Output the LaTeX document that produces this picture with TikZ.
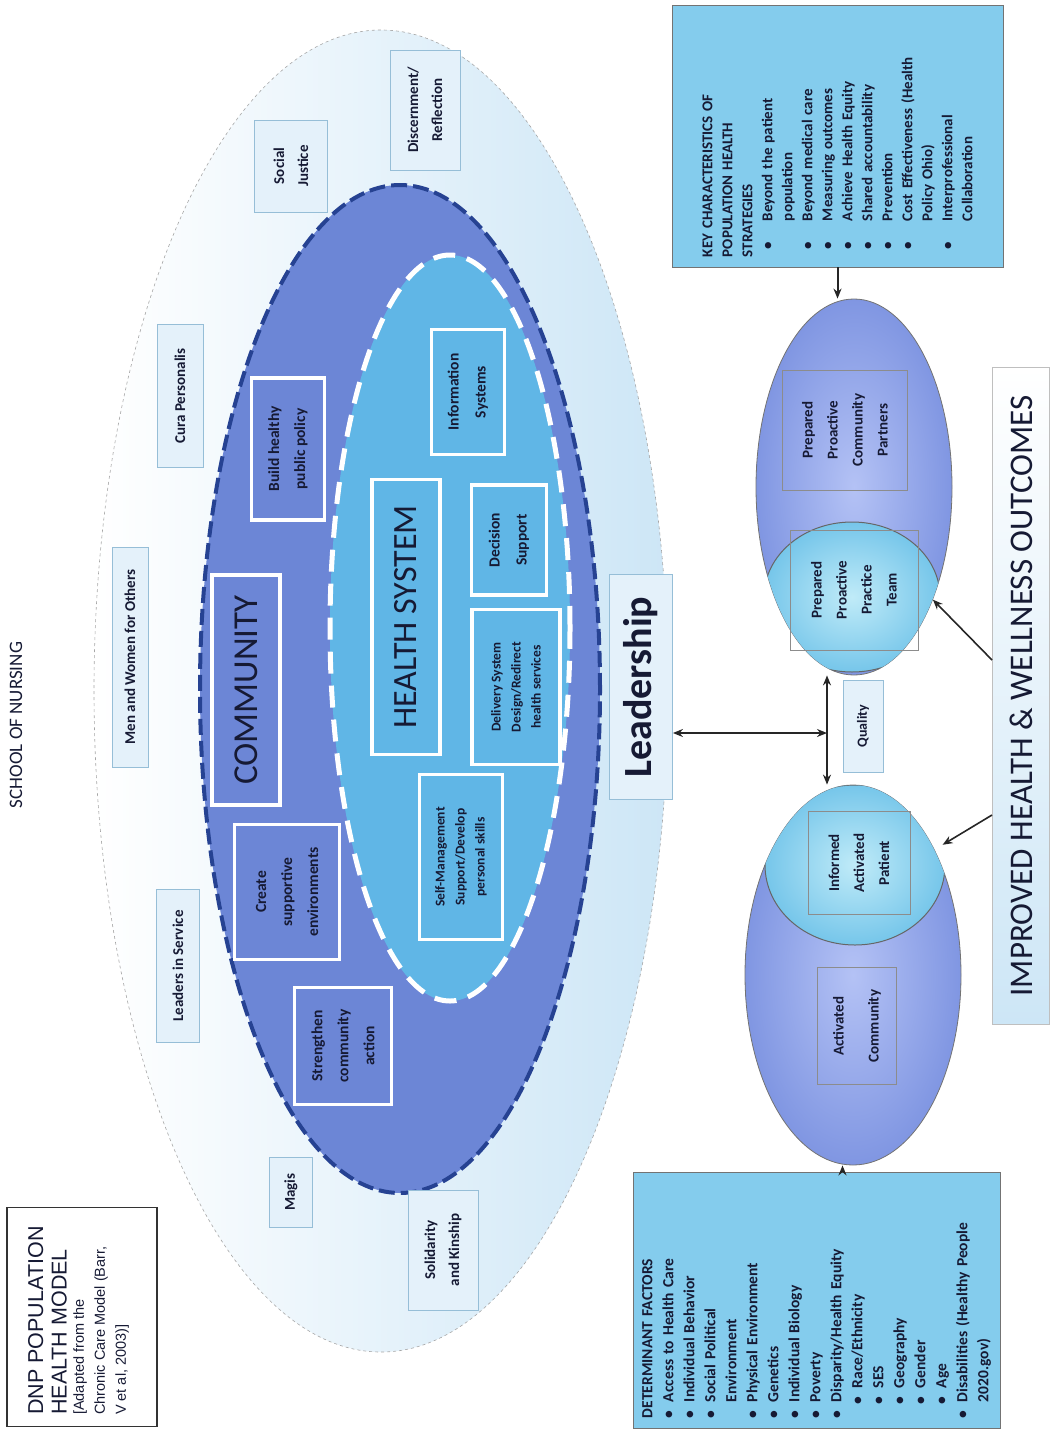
\documentclass[tikz,border=0pt]{standalone}
\usepackage{fontspec}
\setmainfont{Carlito}
\newfontfamily\arialfont{Liberation Sans}
\usetikzlibrary{shapes.geometric, arrows.meta}

\definecolor{comfill}{RGB}{108,134,214}
\definecolor{comline}{RGB}{38,66,146}
\definecolor{hsfill}{RGB}{96,182,230}
\definecolor{valfill}{RGB}{228,241,250}
\definecolor{valline}{RGB}{150,190,215}
\definecolor{outblue}{RGB}{205,230,246}
\definecolor{lavout}{RGB}{128,150,226}
\definecolor{lavin}{RGB}{180,194,245}
\definecolor{cyout}{RGB}{118,198,234}
\definecolor{cyin}{RGB}{192,235,248}
\definecolor{listfill}{RGB}{132,204,237}
\definecolor{textcol}{RGB}{22,26,52}

\newcommand{\fsz}[2]{\fontsize{#1}{#2}\selectfont}
\newcommand{\kitm}[1]{\hspace*{8pt}\makebox[28pt][l]{\textbullet}#1}
\newcommand{\kcnt}[1]{\hspace*{36pt}#1}
\newcommand{\ditm}[1]{\makebox[16pt][l]{\textbullet}#1}
\newcommand{\dcnt}[1]{\hspace*{16pt}#1}
\newcommand{\dsub}[1]{\hspace*{14pt}\makebox[16pt][l]{\textbullet}#1}

\tikzset{
  vert/.style={rotate=90, align=center, text=textcol, inner sep=2pt},
  valbox/.style={vert, draw=valline, fill=valfill, line width=0.8pt,
                 font=\bfseries\fsz{15}{24}},
  combox/.style={vert, draw=white, line width=3.5pt, fill=comfill,
                 font=\bfseries\fsz{15.5}{26}},
  hsbox/.style={vert, draw=white, line width=3.5pt, fill=hsfill,
                font=\bfseries\fsz{15.5}{27}},
  ringbox/.style={vert, draw=black!45, line width=0.8pt,
                  font=\bfseries\fsz{15}{25}},
  listbox/.style={rotate=90, align=left, draw=black!55, line width=0.8pt,
                  fill=listfill, text=textcol, inner xsep=10pt, inner ysep=4pt,
                  font=\bfseries\fsz{15}{20}},
  bigell/.style={ellipse, inner sep=0pt},
  arr/.style={-{Stealth[length=10pt,width=8pt]}, line width=2pt, draw=black!85},
  darr/.style={{Stealth[length=10pt,width=8pt]}-{Stealth[length=10pt,width=8pt]},
               line width=2.2pt, draw=black!85}
}

\begin{document}
\begin{tikzpicture}[x=1pt, y=-1pt]
\useasboundingbox (0,0) rectangle (1056,1432);

% rings of the model
\node[bigell, draw=black!35, dashed, line width=0.6pt, left color=white, right color=outblue,
      minimum width=574, minimum height=1322] (outer) at (381,691) {};
\node[bigell, draw=comline, line width=4pt, dash pattern=on 16pt off 6pt, fill=comfill,
      minimum width=400, minimum height=1008] (comm) at (400,689) {};
\node[bigell, draw=white, line width=5pt, dash pattern=on 22pt off 12pt, fill=hsfill,
      minimum width=240, minimum height=746] (hs) at (450,628) {};

% values
\node[valbox, minimum width=120, minimum height=70] (discern) at (425,110) {Discernment/\\Reflection};
\node[valbox, minimum width=92, minimum height=73] (justice) at (291,166) {Social\\Justice};
\node[valbox, minimum width=143, minimum height=46] (cura) at (180,396) {Cura Personalis};
\node[valbox, minimum width=220, minimum height=36] (menwomen) at (130,657) {Men and Women for Others};
\node[valbox, minimum width=153, minimum height=43] (leaders) at (178,966) {Leaders in Service};
\node[valbox, minimum width=70, minimum height=43] (magis) at (291,1192) {Magis};
\node[valbox, minimum width=120, minimum height=70] (kinship) at (443,1250) {Solidarity\\and Kinship};

% community
\node[combox, minimum width=142, minimum height=73] (policy) at (288,449) {Build healthy\\public policy};
\node[combox, minimum width=230, minimum height=68, font=\fsz{35}{40}] (community) at (246,690) {COMMUNITY};
\node[combox, minimum width=135, minimum height=105] (environ) at (287,892) {Create\\supportive\\environments};
\node[combox, minimum width=117, minimum height=97] (action) at (343,1046) {Strengthen\\community\\action};

% health system
\node[hsbox, minimum width=125, minimum height=73] (infosys) at (468,392) {Information\\Systems};
\node[hsbox, minimum width=275, minimum height=68, font=\fsz{34}{38}] (hsys) at (406,617) {HEALTH SYSTEM};
\node[hsbox, minimum width=110, minimum height=75] (decision) at (509,540) {Decision\\Support};
\node[hsbox, minimum width=155, minimum height=88, font=\bfseries\fsz{13.5}{20}] (delivery) at (516,687) {Delivery System\\Design/Redirect\\health services};
\node[hsbox, minimum width=165, minimum height=83, font=\bfseries\fsz{13.5}{20}] (selfmgmt) at (461,857) {Self-Management\\Support/Develop\\personal skills};

\node[valbox, minimum width=225, minimum height=63, font=\bfseries\fsz{40}{44}] (lead) at (641,687) {Leadership};

% outcome ellipses
\node[bigell, draw=black!55, line width=0.8pt, inner color=lavin, outer color=lavout,
      minimum width=196, minimum height=376] (upper) at (854,487) {};
\begin{scope}
  \clip (854,487) ellipse [x radius=98pt, y radius=188pt];
  \node[bigell, draw=black!60, line width=1pt, inner color=cyin, outer color=cyout,
        minimum width=176, minimum height=150] (team) at (852,597) {};
\end{scope}
\node[bigell, draw=black!55, line width=0.8pt, inner color=lavin, outer color=lavout,
      minimum width=216, minimum height=380] (lower) at (853,975) {};
\begin{scope}
  \clip (853,975) ellipse [x radius=108pt, y radius=190pt];
  \node[bigell, draw=black!60, line width=1pt, inner color=cyin, outer color=cyout,
        minimum width=180, minimum height=160] (patient) at (855,865) {};
\end{scope}

\node[ringbox, minimum width=120, minimum height=125] (partners) at (845,430) {Prepared\\Proactive\\Community\\Partners};
\node[ringbox, minimum width=120, minimum height=128] (practice) at (854,590) {Prepared\\Proactive\\Practice\\Team};
\node[ringbox, minimum width=103, minimum height=102] (informed) at (859,863) {Informed\\Activated\\Patient};
\node[ringbox, minimum width=117, minimum height=79, font=\bfseries\fsz{15}{35}] (activated) at (857,1026) {Activated\\Community};

\node[valbox, minimum width=92, minimum height=40, font=\bfseries\fsz{14}{16}] (quality) at (863,726) {Quality};

% lists
\node[listbox, text width=242, minimum height=331] (key) at (837.5,136) {KEY CHARACTERISTICS OF\\POPULATION HEALTH\\STRATEGIES\\
  \kitm{Beyond the patient}\\\kcnt{population}\\\kitm{Beyond medical care}\\
  \kitm{Measuring outcomes}\\\kitm{Achieve Health Equity}\\\kitm{Shared accountability}\\
  \kitm{Prevention}\\\kitm{Cost Effectiveness (Health}\\\kcnt{Policy Ohio)}\\
  \kitm{Interprofessional}\\\kcnt{Collaboration}};
\node[listbox, text width=236, minimum height=367, font=\bfseries\fsz{15.5}{21}] (det) at (816.5,1300) {DETERMINANT FACTORS\\
  \ditm{Access to Health Care}\\\ditm{Individual Behavior}\\\ditm{Social Political}\\
  \dcnt{Environment}\\\ditm{Physical Environment}\\\ditm{Genetics}\\
  \ditm{Individual Biology}\\\ditm{Poverty}\\\ditm{Disparity/Health Equity}\\
  \dsub{Race/Ethnicity}\\\dsub{SES}\\\dsub{Geography}\\\dsub{Gender}\\\dsub{Age}\\
  \ditm{Disabilities (Healthy People}\\\dcnt{2020.gov)}};

\node[vert, draw=black!25, line width=1pt, top color=white, bottom color=outblue,
      minimum width=657, minimum height=57, font=\fsz{33}{36}] (imp) at (1021,696) {IMPROVED HEALTH \& WELLNESS OUTCOMES};

% title
\node[rotate=90, draw=black!80, line width=1.6pt, fill=white,
      minimum width=219, minimum height=150] (titlebox) at (82,1317) {};
\node[rotate=90, anchor=north west, align=left, inner sep=0pt, text=textcol,
      font=\arialfont\fsz{21.5}{23.5}] (titletop) at (28,1415) {DNP POPULATION\\HEALTH MODEL};
\node[rotate=90, anchor=north west, align=left, inner sep=0pt, text=textcol,
      font=\arialfont\fsz{14.5}{21}] (titlesub) at ([xshift=6pt]titletop.south west) {[Adapted from the\\Chronic Care Model (Barr,\\V et al, 2003)]};
\node[rotate=90, text=textcol, font=\fsz{19}{21}] (school) at (16,725) {SCHOOL OF NURSING};

% connectors
\coordinate (qmid) at (827,733);
\coordinate (detin) at ([xshift=26pt]det.east);
\draw[darr] (lead.south |- qmid) -- (qmid);
\draw[darr] (upper.south -| qmid) -- (lower.north -| qmid);
\draw[arr] (key.west) -- (key.west |- upper.north);
\draw[arr] (detin) -- (detin |- lower.south);
\draw[arr, line width=1.6pt] ([yshift=36pt]imp.north) -- (upper.-55);
\draw[arr, line width=1.6pt] ([yshift=-119pt]imp.north) -- (patient.13);
\end{tikzpicture}
\end{document}
